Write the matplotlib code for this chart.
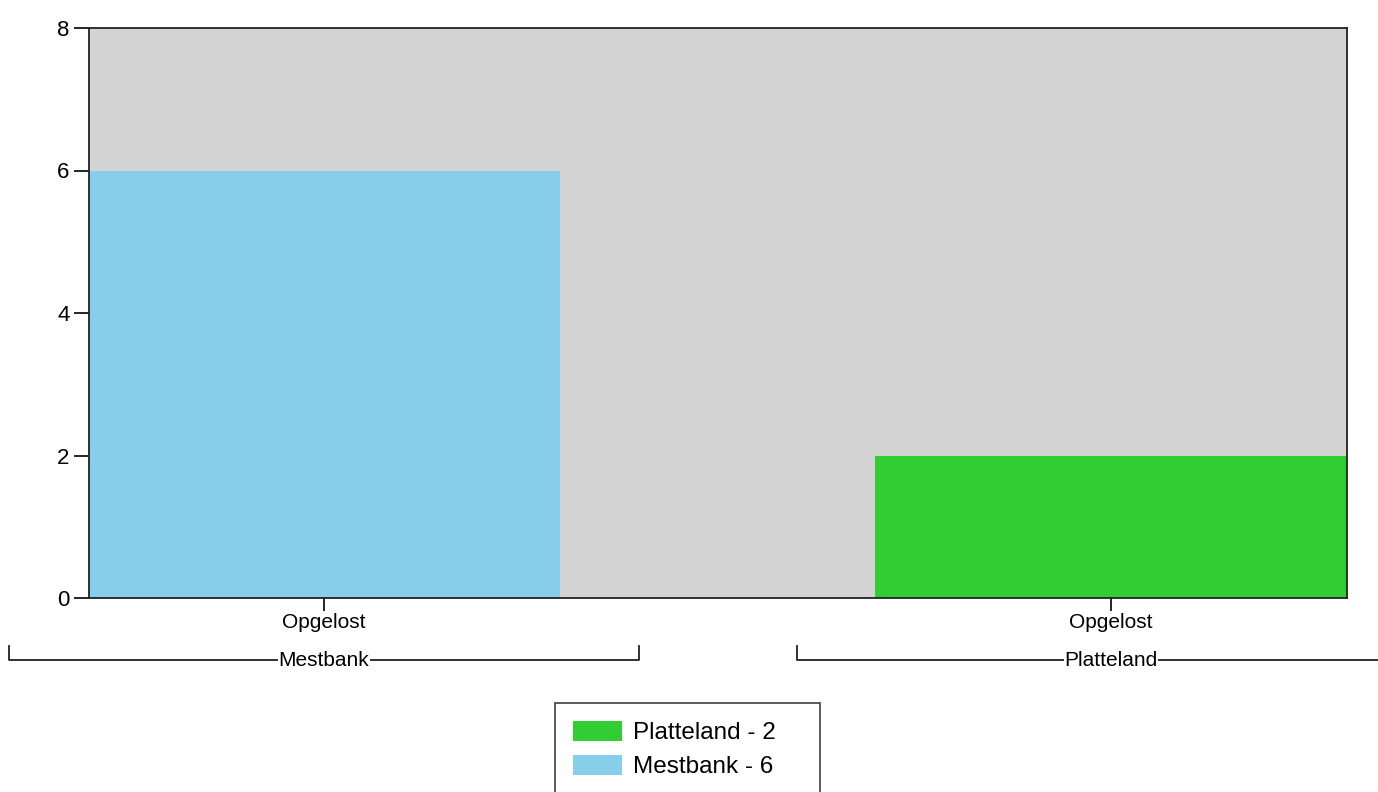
import matplotlib.pyplot as plt
import matplotlib.transforms as mtransforms
from matplotlib.patches import Patch

groups = ['Mestbank', 'Platteland']
subcats = ['Opgelost', 'Opgelost']
values = [6, 2]
colors = ['#87CEEB', '#32CD32']
legend_order = [1, 0]

plt.rcParams['font.family'] = ['Liberation Sans', 'DejaVu Sans']

fig = plt.figure(figsize=(13.78, 7.92), dpi=100)
ax = fig.add_axes([89 / 1378, 194 / 792, 1258 / 1378, 570 / 792])
ax.set_facecolor('#D3D3D3')

x = list(range(len(groups)))
ax.bar(x, values, width=0.6, color=colors, zorder=2)

ax.set_xlim(-0.298, 1.3)
ax.set_ylim(0, 8)
ax.set_yticks([0, 2, 4, 6, 8])
ax.set_xticks(x)
ax.set_xticklabels(subcats)
ax.tick_params(axis='y', length=11, width=1.2, labelsize=16, pad=3)
ax.tick_params(axis='x', length=9, width=1.2, labelsize=15, pad=2)
for s in ax.spines.values():
    s.set_linewidth(1.3)
    s.set_color('#222222')

# group brackets below the category labels
trans = mtransforms.blended_transform_factory(ax.transData, ax.transAxes)
y_line = -62 / 570
y_end = -48 / 570
for i, g in enumerate(groups):
    l, r = i - 0.399, i + 0.401
    ax.plot([l, l, r, r], [y_end, y_line, y_line, y_end], color='#222222',
            lw=1.3, transform=trans, clip_on=False)
    ax.text(i, y_line, g, transform=trans, ha='center', va='center', fontsize=15,
            bbox=dict(facecolor='white', edgecolor='none', pad=0.5), clip_on=False)

handles = [Patch(facecolor=colors[i], edgecolor='none') for i in legend_order]
labels = [f'{groups[i]} - {values[i]}' for i in legend_order]
leg = fig.legend(handles, labels, loc='upper left', mode='expand',
                 bbox_to_anchor=(555 / 1378, 0, 265 / 1378, 1 - 703 / 792),
                 fontsize=17.5, frameon=True, fancybox=False, shadow=False,
                 handlelength=2.0, handleheight=0.85, handletextpad=0.45,
                 labelspacing=0.45, borderpad=0.75, borderaxespad=0)
leg.get_frame().set_edgecolor('#222222')
leg.get_frame().set_linewidth(1.3)

fig.savefig('out.png', dpi=100)
